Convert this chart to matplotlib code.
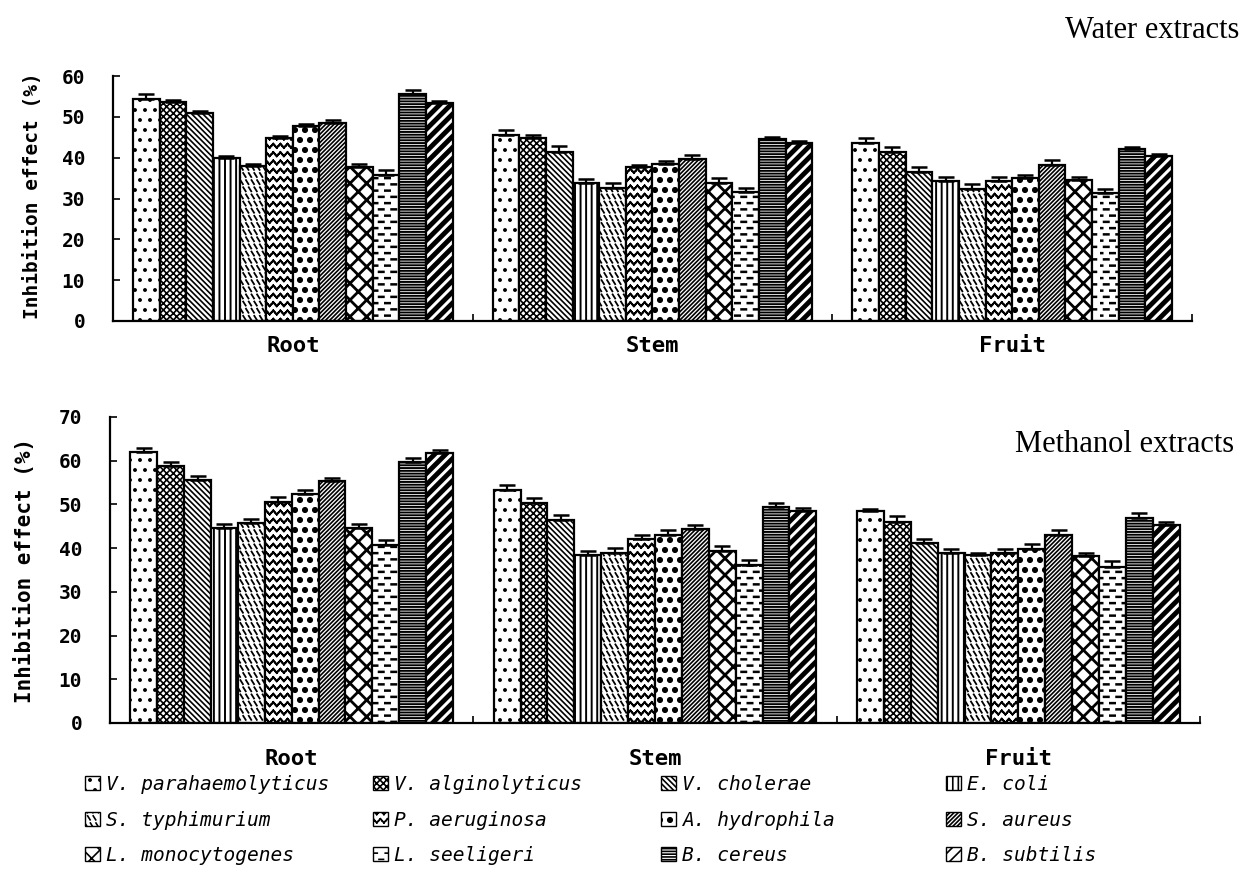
import warnings

import numpy as np
import matplotlib
matplotlib.use("Agg")
import matplotlib.pyplot as plt
from matplotlib import hatch as mhatch
from matplotlib.path import Path
from matplotlib.patches import Patch

warnings.filterwarnings("ignore", message=".*hatch.*")

# ---------------------------------------------------------------- data
parts = ["Root", "Stem", "Fruit"]
species = ["V. parahaemolyticus", "V. alginolyticus", "V. cholerae", "E. coli",
           "S. typhimurium", "P. aeruginosa", "A. hydrophila", "S. aureus",
           "L. monocytogenes", "L. seeligeri", "B. cereus", "B. subtilis"]

# water extracts, inhibition effect (%) and upper error
water_root = [54.3, 53.6, 50.9, 39.9, 37.9, 44.7, 47.7, 48.6, 37.7, 35.7, 55.7, 53.5]
water_stem = [45.5, 44.7, 41.4, 33.9, 32.6, 37.7, 38.4, 39.6, 33.9, 31.5, 44.5, 43.7]
water_fruit = [43.6, 41.3, 36.5, 34.3, 32.4, 34.3, 35.0, 38.3, 34.6, 31.3, 42.2, 40.5]
water_root_err = [1.2, 0.5, 0.5, 0.6, 0.6, 0.6, 0.6, 0.6, 0.8, 1.4, 0.8, 0.3]
water_stem_err = [1.2, 0.8, 1.4, 0.8, 1.3, 0.6, 0.8, 1.0, 1.0, 1.1, 0.6, 0.3]
water_fruit_err = [1.1, 1.2, 1.1, 0.9, 1.2, 0.9, 0.8, 1.2, 0.6, 1.1, 0.4, 0.4]

# methanol extracts, inhibition effect (%) and upper error
meoh_root = [62.0, 58.8, 55.5, 44.5, 45.8, 50.6, 52.5, 55.3, 44.5, 40.7, 59.6, 61.8]
meoh_stem = [53.4, 50.4, 46.4, 38.4, 38.9, 42.0, 43.0, 44.3, 39.3, 36.1, 49.3, 48.4]
meoh_fruit = [48.4, 46.0, 41.2, 38.8, 38.4, 38.8, 39.9, 43.1, 38.2, 35.7, 46.9, 45.2]
meoh_root_err = [0.8, 0.8, 1.0, 1.1, 0.8, 1.0, 0.9, 0.8, 1.0, 1.1, 1.1, 0.7]
meoh_stem_err = [1.0, 1.1, 1.1, 0.9, 1.1, 1.1, 1.1, 1.1, 1.1, 1.1, 1.1, 0.8]
meoh_fruit_err = [0.5, 1.3, 0.8, 1.1, 0.4, 1.0, 1.1, 1.1, 0.8, 1.3, 1.1, 0.8]


# ---------------------------------------------------------------- extra hatch fills
class WaveHatch(mhatch.HatchPatternBase):
    """Horizontal wavy lines, 12 per tile for each '~'."""

    def __init__(self, hatch, density):
        self.num_lines = hatch.count("~") * 12
        self.num_seg = 56
        self.num_vertices = self.num_lines * self.num_seg * 2

    def set_vertices_and_codes(self, vertices, codes):
        xs = np.linspace(0, 1, self.num_seg + 1)
        wave = 0.02 * np.sin(2 * np.pi * 14 * xs)
        k = 0
        for i in range(self.num_lines):
            ys = (i + 0.5) / self.num_lines + wave
            for j in range(self.num_seg):
                vertices[k] = (xs[j], ys[j])
                vertices[k + 1] = (xs[j + 1], ys[j + 1])
                k += 2
        codes[0::2] = Path.MOVETO
        codes[1::2] = Path.LINETO


class StrokeHatch(mhatch.HatchPatternBase):
    """Staggered field of short strokes."""
    char = "z"
    rows = 10
    cols = 16
    vec = (0.03, -0.05)

    def __init__(self, hatch, density):
        n = hatch.count(self.char)
        self.num_rows = n * self.rows
        self.num_cols = n * self.cols
        self.num_vertices = self.num_rows * self.num_cols * 2

    def set_vertices_and_codes(self, vertices, codes):
        dx, dy = self.vec
        k = 0
        for i in range(self.num_rows):
            y = (i + 0.5) / self.num_rows
            shift = 0.5 / self.num_cols if i % 2 else 0.0
            for j in range(self.num_cols):
                x = ((j + 0.5) / self.num_cols + shift) % 1.0
                vertices[k] = (x - dx / 2, y - dy / 2)
                vertices[k + 1] = (x + dx / 2, y + dy / 2)
                k += 2
        codes[0::2] = Path.MOVETO
        codes[1::2] = Path.LINETO


class BackStrokes(StrokeHatch):
    char = "z"
    rows = 14
    cols = 18
    vec = (0.025, -0.04)


class DashStrokes(StrokeHatch):
    char = "k"
    rows = 16
    cols = 8
    vec = (0.045, 0.0)


class FineDots(mhatch.Circles):
    size = 0.11
    filled = True

    def __init__(self, hatch, density):
        self.num_rows = hatch.count(";") * 10
        super().__init__(hatch, density)


class BigDots(mhatch.Circles):
    size = 0.22
    filled = True

    def __init__(self, hatch, density):
        self.num_rows = hatch.count(",") * 10
        super().__init__(hatch, density)


mhatch._hatch_types.extend([WaveHatch, BackStrokes, DashStrokes, FineDots, BigDots])

hatches = [";", "xxxxx", "\\\\\\\\\\\\", "|||", "z", "~", ",",
           "////////", "xx", "k", "------", "///"]
hatch_lw = [1.2, 1.2, 1.2, 1.4, 1.3, 1.4, 1.2, 1.2, 2.0, 1.8, 1.4, 3.5]

# ---------------------------------------------------------------- styling
plt.rcParams["hatch.linewidth"] = 1.2
mono = "DejaVu Sans Mono"
W, H = 1241, 892
fig = plt.figure(figsize=(W / 100, H / 100), dpi=100)

bar_w = 0.074
group_x = np.arange(len(parts))


def panel(rect, ymax, data, errs, ylab_size, xpad):
    ax = fig.add_axes(rect)
    for i in range(len(species)):
        vals = [d[i] for d in data]
        err = [e[i] for e in errs]
        x = group_x + (i - 5.5) * bar_w
        bars = ax.bar(x, vals, bar_w, facecolor="white", edgecolor="black",
                      linewidth=1.6, hatch=hatches[i], zorder=2)
        for b in bars:
            if hasattr(b, "set_hatch_linewidth"):
                b.set_hatch_linewidth(hatch_lw[i])
        ax.errorbar(x, vals, yerr=[np.zeros(len(vals)), err], fmt="none",
                    ecolor="black", elinewidth=1.6, capsize=5.5, capthick=1.8,
                    zorder=3)
    ax.set_xlim(-0.5, 2.5)
    ax.set_ylim(0, ymax)
    ax.set_yticks(np.arange(0, ymax + 1, 10))
    ax.set_xticks(group_x, parts)
    ax.set_xticks([0.5, 1.5, 2.5], minor=True)
    ax.tick_params(axis="x", which="major", length=0, pad=xpad)
    ax.tick_params(axis="x", which="minor", direction="in", length=5, width=1.2)
    ax.tick_params(axis="y", direction="in", length=5, width=1.2, pad=20)
    for lab in ax.get_xticklabels():
        lab.set_fontfamily(mono)
        lab.set_fontweight("bold")
        lab.set_fontsize(16)
    for lab in ax.get_yticklabels():
        lab.set_fontfamily(mono)
        lab.set_fontweight("bold")
        lab.set_fontsize(14)
    for s in ("top", "right"):
        ax.spines[s].set_visible(False)
    for s in ("left", "bottom"):
        ax.spines[s].set_linewidth(1.6)
    ax.set_ylabel("Inhibition effect (%)", family=mono, weight="bold",
                  fontsize=ylab_size)
    return ax


ax_top = panel([113 / W, 1 - 321 / H, 1079 / W, 245 / H], 60,
               [water_root, water_stem, water_fruit],
               [water_root_err, water_stem_err, water_fruit_err], 14, 11)
ax_top.yaxis.set_label_coords(-0.066, 0.51)

ax_bot = panel([110 / W, 1 - 723 / H, 1090 / W, 306 / H], 70,
               [meoh_root, meoh_stem, meoh_fruit],
               [meoh_root_err, meoh_stem_err, meoh_fruit_err], 15, 19)
ax_bot.yaxis.set_label_coords(-0.069, 0.5)

fig.text(1239 / W, 1 - 30 / H, "Water extracts", family="Liberation Serif",
         fontsize=22, ha="right", va="center")
fig.text(1234 / W, 1 - 444 / H, "Methanol extracts", family="Liberation Serif",
         fontsize=22, ha="right", va="center")

# legend: four columns, filled row by row
col_left = [85, 373, 661, 946]
for c, xl in enumerate(col_left):
    idx = [c, c + 4, c + 8]
    handles = []
    for i in idx:
        h = Patch(facecolor="white", edgecolor="black", linewidth=1.0,
                  hatch=hatches[i])
        if hasattr(h, "set_hatch_linewidth"):
            h.set_hatch_linewidth(min(hatch_lw[i], 2.0))
        handles.append(h)
    fig.legend(handles, [species[i] for i in idx], loc="upper left",
               bbox_to_anchor=(xl / W, 1 - 775 / H), bbox_transform=fig.transFigure,
               frameon=False, prop={"family": mono, "style": "italic", "size": 14},
               handlelength=0.75, handleheight=0.75, handletextpad=0.35,
               labelspacing=0.85, borderpad=0, borderaxespad=0)

fig.savefig("out.png", dpi=100)
